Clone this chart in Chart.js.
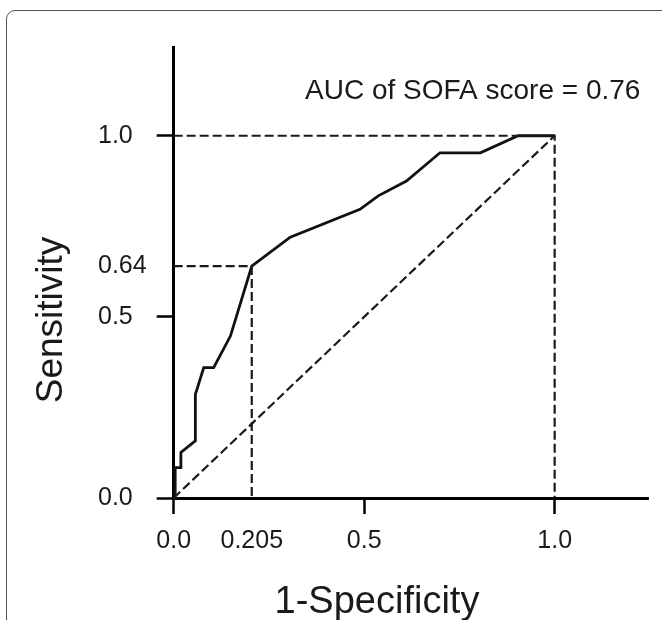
<!DOCTYPE html>
<html>
<head>
<meta charset="utf-8">
<script src="https://cdn.jsdelivr.net/npm/chart.js@4/dist/chart.umd.min.js"></script>
<style>
  html, body { margin: 0; padding: 0; background: #fff; overflow: hidden; }
  #frame {
    position: absolute; left: 6px; top: 10px; width: 720px; height: 720px;
    border: 1.5px solid #555; border-radius: 9px; box-sizing: border-box;
  }
  #wrap { position: absolute; left: 0; top: 0; width: 662px; height: 620px; }
</style>
</head>
<body>
<div id="frame"></div>
<div id="wrap"><canvas id="roc" width="662" height="620"></canvas></div>
<script>
// ROC curve (1-specificity vs sensitivity)
const rocFpr = [0, 0.004, 0.004, 0.019, 0.019, 0.057, 0.057, 0.079, 0.105, 0.149, 0.205, 0.306, 0.489, 0.537, 0.611, 0.699, 0.805, 0.904, 1.0];
const rocTpr = [0, 0, 0.084, 0.084, 0.126, 0.158, 0.286, 0.36, 0.36, 0.447, 0.64, 0.72, 0.797, 0.834, 0.875, 0.953, 0.953, 1.0, 1.0];

// cut-off point
const cutoffFpr = 0.205;
const cutoffTpr = 0.64;

const xTicks = [0, 0.205, 0.5, 1.0];
const xTickLabels = ["0.0", "0.205", "0.5", "1.0"];
const yTicks = [0, 0.5, 0.64, 1.0];
const yTickLabels = ["0.0", "0.5", "0.64", "1.0"];
const majorTicks = [0, 0.5, 1.0];

const aucText = "AUC of SOFA score = 0.76";
const xTitle = "1-Specificity";
const yTitle = "Sensitivity";

const FONT = "'Liberation Sans', Arial, Helvetica, sans-serif";
const INK = "#1a1a1a";

function pts(xs, ys) {
  return xs.map((x, i) => ({ x: x, y: ys[i] }));
}

const dashed = {
  showLine: true,
  borderColor: INK,
  borderWidth: 2.2,
  borderDash: [9, 4],
  pointRadius: 0,
  clip: false,
};

const annotations = {
  id: "annotations",
  afterDraw(chart) {
    const ctx = chart.ctx;
    ctx.save();
    ctx.fillStyle = INK;

    // AUC note
    ctx.font = "28px " + FONT;
    ctx.textAlign = "left";
    ctx.textBaseline = "alphabetic";
    ctx.fillText(aucText, 305, 99);

    // x title
    ctx.font = "38px " + FONT;
    ctx.textAlign = "center";
    ctx.fillText(xTitle, 377, 613);

    // y title
    ctx.font = "37px " + FONT;
    ctx.translate(62, 320);
    ctx.rotate(-Math.PI / 2);
    ctx.fillText(yTitle, 0, 0);
    ctx.restore();
  },
};

function tickMarkColor(c) {
  return majorTicks.includes(c.tick && c.tick.value) ? "#000" : "rgba(0,0,0,0)";
}

new Chart(document.getElementById("roc").getContext("2d"), {
  type: "scatter",
  data: {
    datasets: [
      { ...dashed, data: pts([0, 1], [0, 1]) },
      { ...dashed, data: pts([0, 1, 1], [1, 1, 0]) },
      { ...dashed, data: pts([0, cutoffFpr, cutoffFpr], [cutoffTpr, cutoffTpr, 0]) },
      {
        data: pts(rocFpr, rocTpr),
        showLine: true,
        borderColor: "#111",
        borderWidth: 2.8,
        pointRadius: 0,
        clip: false,
      },
    ],
  },
  options: {
    responsive: false,
    animation: false,
    devicePixelRatio: 1,
    layout: { padding: { left: 98, top: 47, right: 14, bottom: 52 } },
    plugins: { legend: { display: false }, tooltip: { enabled: false } },
    scales: {
      x: {
        type: "linear",
        min: 0,
        max: 1.245,
        afterBuildTicks: (s) => { s.ticks = xTicks.map((v) => ({ value: v })); },
        ticks: {
          padding: 12,
          color: INK,
          font: { family: FONT, size: 25 },
          maxRotation: 0,
          autoSkip: false,
          callback: (v) => xTickLabels[xTicks.indexOf(v)],
        },
        grid: { drawOnChartArea: false, tickLength: 16, tickWidth: 2.5, tickColor: tickMarkColor },
        border: { color: "#000", width: 3 },
      },
      y: {
        type: "linear",
        min: 0,
        max: 1.245,
        afterBuildTicks: (s) => { s.ticks = yTicks.map((v) => ({ value: v })); },
        ticks: {
          padding: 5,
          crossAlign: "far",
          color: INK,
          font: { family: FONT, size: 25 },
          autoSkip: false,
          callback: (v) => yTickLabels[yTicks.indexOf(v)],
        },
        grid: { drawOnChartArea: false, tickLength: 17, tickWidth: 2.5, tickColor: tickMarkColor },
        border: { color: "#000", width: 3 },
      },
    },
  },
  plugins: [annotations],
});
</script>
</body>
</html>
